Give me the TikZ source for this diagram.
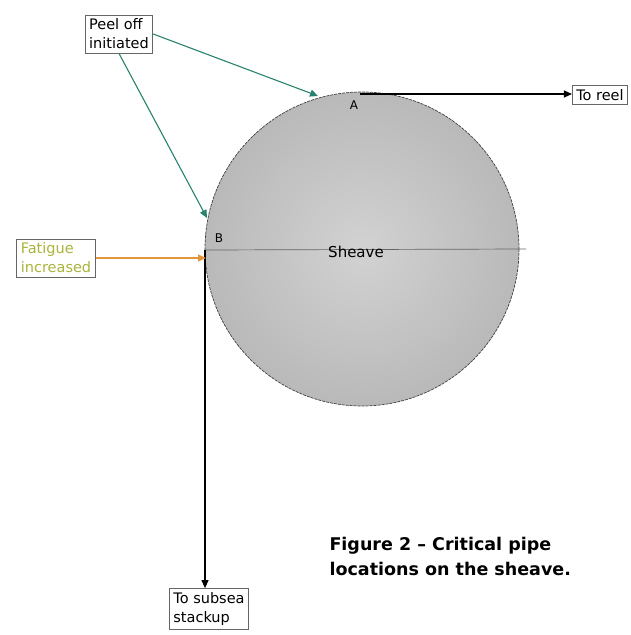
\documentclass[tikz,border=0pt]{standalone}
\usepackage{fontspec}
\setmainfont{DejaVu Sans}
\usetikzlibrary{arrows.meta}
\definecolor{tealarrow}{RGB}{40,130,110}
\definecolor{orangearrow}{RGB}{225,150,60}
\definecolor{fatiguetext}{RGB}{170,180,60}
\definecolor{sheavein}{RGB}{210,210,210}
\definecolor{sheaveout}{RGB}{185,185,185}
\tikzset{
  lbl/.style={draw=black!60, fill=white, inner xsep=4pt, inner ysep=4pt, align=left, font=\fontsize{14.5}{19}\selectfont, line width=0.7pt},
  arr/.style={-{Triangle[length=8pt,width=7pt]}, line width=1.1pt},
}
\begin{document}
\begin{tikzpicture}[x=1pt,y=-1pt]
\useasboundingbox (0,0) rectangle (631,635);
% sheave
\shade[inner color=sheavein, outer color=sheaveout] (362,249) circle (157);
\draw[black!75, dash pattern=on 3pt off 1pt, line width=0.7pt] (362,249) circle (157);
\coordinate (A) at (360,94);
\coordinate (B) at (205,250);
\coordinate (Bin) at (206,258);
\coordinate (hend) at (526,249);
\draw[black!60, line width=0.7pt] (B) -- (hend);
\node (sheave) at (356,252) {\fontsize{15}{16}\selectfont Sheave};
\node (Alab) at (354,105) {\fontsize{12}{12}\selectfont A};
\node (Blab) at (219,238) {\fontsize{12}{12}\selectfont B};
% labels
\node[lbl] (peel) at (119,34) {Peel off\\initiated};
\node[lbl, text=fatiguetext] (fat) at (56,258) {Fatigue\\increased};
\node[lbl] (reel) at (600,95) {To reel};
\node[lbl] (subsea) at (209,609) {To subsea\\stackup};
\node[font=\bfseries\fontsize{17.5}{25}\selectfont, align=left, anchor=north west] (cap) at (326,534) {Figure 2 -- Critical pipe\\locations on the sheave.};
% connectors
\draw[arr] (A) -- (A -| reel.west);
\draw[arr] (B) -- (B |- subsea.north);
\draw[arr, tealarrow] (peel.east) -- (318,96);
\draw[arr, tealarrow] (peel.south) -- (207,218);
\draw[arr, orangearrow] (fat.east) -- (Bin);
\end{tikzpicture}
\end{document}
